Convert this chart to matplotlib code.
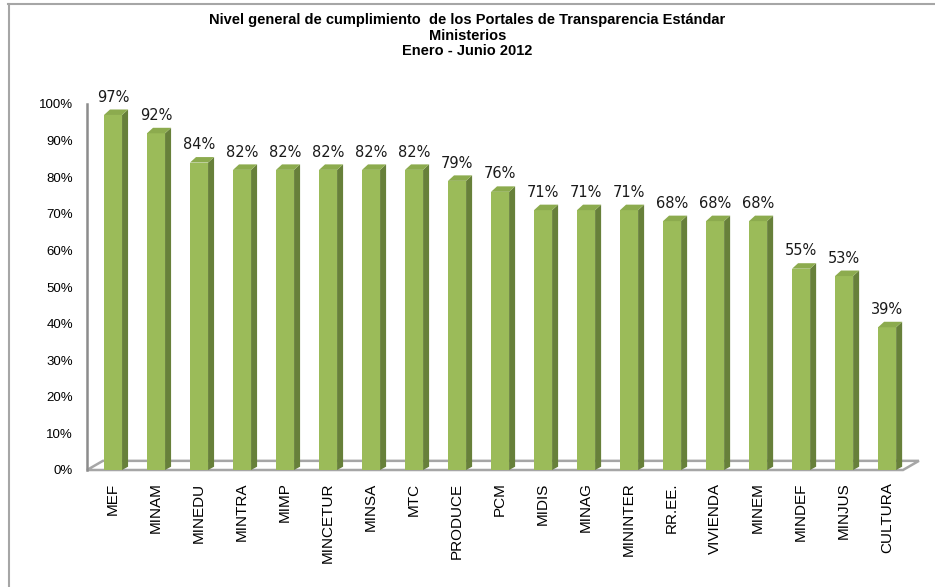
import matplotlib
matplotlib.use('Agg')
import matplotlib.pyplot as plt
from matplotlib.patches import Polygon, Rectangle
from matplotlib.lines import Line2D

ministerios = ['MEF', 'MINAM', 'MINEDU', 'MINTRA', 'MIMP', 'MINCETUR', 'MINSA', 'MTC',
               'PRODUCE', 'PCM', 'MIDIS', 'MINAG', 'MININTER', 'RR.EE.', 'VIVIENDA',
               'MINEM', 'MINDEF', 'MINJUS', 'CULTURA']
cumplimiento = [97, 92, 84, 82, 82, 82, 82, 82, 79, 76, 71, 71, 71, 68, 68, 68, 55, 53, 39]
yticks = list(range(0, 101, 10))

front = '#9bbb59'
side = '#67803a'
top = '#8cab4e'

# fake 3d depth (data units)
w = 0.42
dx = 0.14
dy = 1.5
fdx = 0.37
fdy = 2.5

fig = plt.figure(figsize=(9.35, 5.87), dpi=100)
ax = fig.add_axes([87/935, 1 - 470/587, (903 - 87)/935, 366/587])

n = len(ministerios)
xs = list(range(n))

# floor
floor = Polygon([(-0.605, 0), (18.37, 0), (18.37 + fdx, fdy), (-0.605 + fdx, fdy)],
                closed=True, facecolor='white', edgecolor='#a6a6a6', lw=1.8,
                clip_on=False, zorder=1)
ax.add_patch(floor)

for x, v in zip(xs, cumplimiento):
    l = x - w/2
    r = x + w/2
    ax.add_patch(Rectangle((l, 0), w, v, facecolor=front, edgecolor='none',
                           clip_on=False, zorder=3))
    ax.add_patch(Polygon([(r, 0), (r + dx, dy * 0.6), (r + dx, v + dy), (r, v)],
                         closed=True, facecolor=side, edgecolor='none',
                         clip_on=False, zorder=3))
    ax.add_patch(Polygon([(l, v), (r, v), (r + dx, v + dy), (l + dx, v + dy)],
                         closed=True, facecolor=top, edgecolor='none',
                         clip_on=False, zorder=3))
    ax.annotate('%d%%' % v, (x, v + dy), xytext=(0, 3.5), textcoords='offset points',
                ha='center', va='bottom', fontsize=10.5, family='DejaVu Sans',
                color='#1a1a1a', zorder=4)

ax.set_xlim(-0.605, 18.37)
ax.set_ylim(0, 100)
ax.set_xticks(xs)
ax.set_xticklabels(ministerios, rotation=90, fontsize=11, family='Liberation Sans')
ax.set_yticks(yticks)
ax.set_yticklabels(['%d%%' % t for t in yticks], fontsize=9.5, family='Liberation Sans')
ax.tick_params(length=0)
ax.tick_params(axis='y', pad=10)
ax.tick_params(axis='x', pad=9)
for s in ['top', 'right', 'bottom']:
    ax.spines[s].set_visible(False)
ax.spines['left'].set_color('#8c8c8c')
ax.spines['left'].set_linewidth(1.8)
ax.patch.set_visible(False)

fig.text(0.5, 1 - 13/587,
         'Nivel general de cumplimiento  de los Portales de Transparencia Estándar\nMinisterios\nEnero - Junio 2012',
         ha='center', va='top', fontsize=10.5, fontweight='bold',
         family='Liberation Sans', linespacing=1.14)
# border, only top and left edges show
fig.add_artist(Line2D([8/935, 1], [1 - 3.5/587] * 2, transform=fig.transFigure,
                      color='#a6a6a6', lw=1.5))
fig.add_artist(Line2D([8.5/935] * 2, [0, 1 - 3.5/587], transform=fig.transFigure,
                      color='#a6a6a6', lw=1.5))

fig.savefig('out.png', dpi=100)
